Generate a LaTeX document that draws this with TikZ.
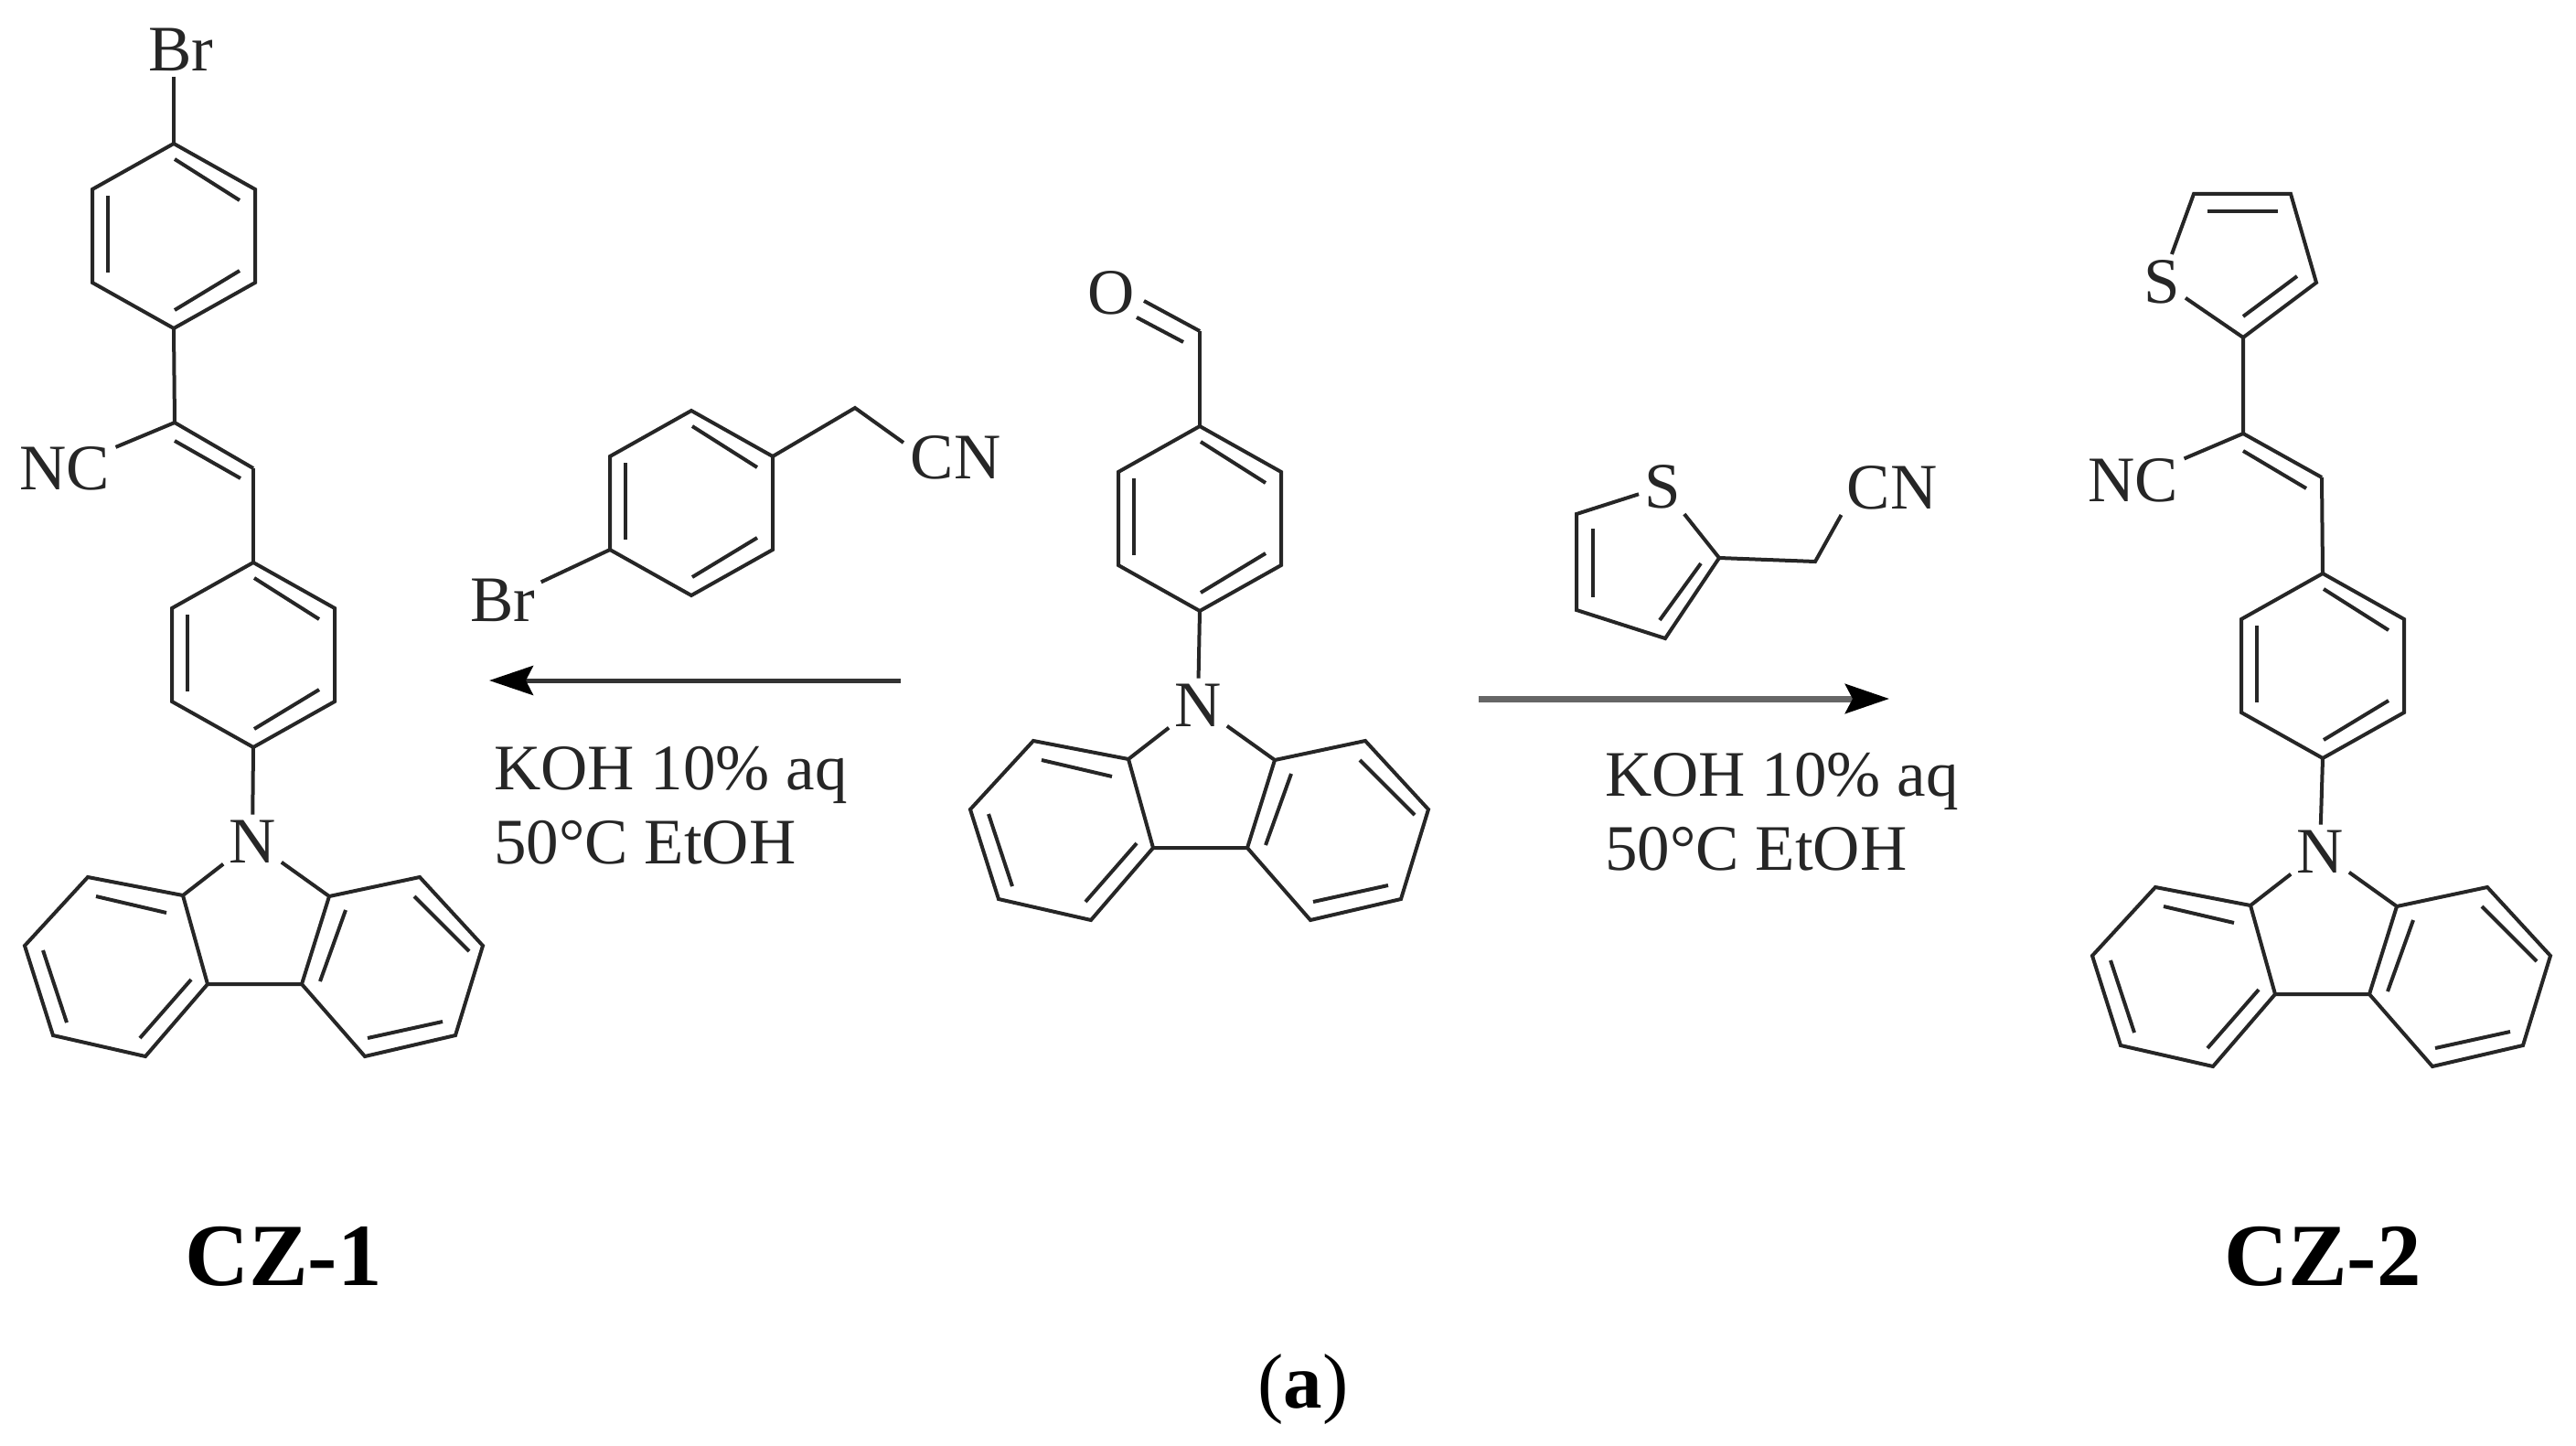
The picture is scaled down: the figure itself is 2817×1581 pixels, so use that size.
\documentclass[tikz,border=0pt]{standalone}
\usepackage{fontspec}
\setmainfont{Liberation Serif}
\usetikzlibrary{arrows.meta}

\tikzset{
  bond/.style={line width=4pt,black!85},
  atom/.style={inner sep=6pt,font=\fontsize{71}{71}\selectfont,text=black!85},
  cond/.style={inner sep=0pt,anchor=base west,font=\fontsize{71}{71}\selectfont,text=black!85},
  cmpd/.style={inner sep=0pt,font=\bfseries\fontsize{97}{97}\selectfont}
}

% six-membered ring, centre at #2
\newcommand{\phring}[2]{%
\begin{scope}[shift={(#2)},name prefix=#1]
\coordinate (t) at (0,-101);
\coordinate (ur) at (89,-51);
\coordinate (lr) at (89,51);
\coordinate (b) at (0,101);
\coordinate (ll) at (-89,51);
\coordinate (ul) at (-89,-51);
\draw[bond] (t) -- (ur) -- (lr) -- (b) -- (ll) -- (ul) -- cycle;
\draw[bond] (1,-84) -- (72,-39);
\draw[bond] (-72,-44) -- (-72,40);
\draw[bond] (1,81) -- (72,38);
\end{scope}}

% carbazole, ring nitrogen at #2
\newcommand{\carbaz}[2]{%
\begin{scope}[shift={(#2)},name prefix=#1]
\node[atom] (n) at (0,0) {N};
\coordinate (a) at (-76,59);
\coordinate (b) at (-180,39);
\coordinate (c) at (-249,114);
\coordinate (d) at (-218,212);
\coordinate (e) at (-117,235);
\coordinate (f) at (-49,156);
\coordinate (g) at (54,156);
\coordinate (h) at (84,60);
\coordinate (i) at (183,39);
\coordinate (j) at (252,114);
\coordinate (k) at (222,212);
\coordinate (l) at (123,235);
\draw[bond] (n) -- (a) -- (b) -- (c) -- (d) -- (e) -- (f) -- (a);
\draw[bond] (f) -- (g) -- (h) -- (n);
\draw[bond] (h) -- (i) -- (j) -- (k) -- (l) -- (g);
\draw[bond] (-171,60) -- (-94,78);
\draw[bond] (-229,119) -- (-203,198);
\draw[bond] (-123,215) -- (-67,151);
\draw[bond] (102,75) -- (74,153);
\draw[bond] (177,60) -- (237,120);
\draw[bond] (126,215) -- (208,197);
\end{scope}}

\begin{document}
\begin{tikzpicture}[x=1pt,y=-1pt,>={Stealth[length=48pt,width=32pt,inset=8pt,black]}]
\useasboundingbox (0,0) rectangle (2817,1581);

% CZ-1
\node[atom] (brA) at (198,54) {Br};
\phring{ra}{190,258}
\draw[bond] (brA.south -| rat) -- (rat);
\coordinate (vinA) at (191,462);
\coordinate (chA) at (277,512);
\node[atom] (ncA) at (71,512) {NC};
\draw[bond] (rab) -- (vinA) -- (chA);
\draw[bond] (vinA) -- (ncA);
\draw[bond] (191,482) -- (263,523);
\phring{rb}{277,716}
\draw[bond] (chA) -- (rbt);
\carbaz{cza}{276,920}
\draw[bond] (rbb) -- (czan);
\node[cmpd] (nameA) at (310,1374) {CZ-1};

% reagent, left
\phring{rc}{756,550}
\node[atom] (brC) at (550,656) {Br};
\draw[bond] (rcll) -- (brC);
\coordinate (chC) at (935,446);
\node[atom] (cnC) at (1045,500) {CN};
\coordinate (cnCend) at (988,484);
\draw[bond] (rcur) -- (chC) -- (cnCend);

\coordinate (arLs) at (985,744);
\coordinate (arLe) at (535,744);
\draw[->,line width=5pt,black!80] (arLs) -- (arLe);
\node[cond] (koL) at (540,863) {KOH 10\% aq};
\node[cond] (etL) at (540,944) {50°C EtOH};

% aldehyde
\node[atom] (oM) at (1215,320) {O};
\coordinate (choM) at (1312,362);
\draw[bond] (1251,329) -- (choM);
\draw[bond] (1243,347) -- (1294,374);
\phring{rm}{1312,567}
\draw[bond] (choM) -- (rmt);
\carbaz{czm}{1310,771}
\draw[bond] (rmb) -- (czmn);

% reagent, right
\node[atom] (sR) at (1818,532) {S};
\coordinate (t1) at (1724,562);
\coordinate (t2) at (1724,667);
\coordinate (t3) at (1821,698);
\coordinate (t4) at (1880,610);
\draw[bond] (sR) -- (t1) -- (t2) -- (t3) -- (t4) -- (sR);
\draw[bond] (1742,578) -- (1742,653);
\draw[bond] (1815,678) -- (1860,616);
\coordinate (chR) at (1985,614);
\node[atom] (cnR) at (2069,533) {CN};
\draw[bond] (t4) -- (chR) -- (cnR.south west);

\coordinate (arRs) at (1617,764);
\coordinate (arRe) at (2066,764);
\draw[->,line width=7pt,black!60] (arRs) -- (arRe);
\node[cond] (koR) at (1755,870) {KOH 10\% aq};
\node[cond] (etR) at (1755,951) {50°C EtOH};

% CZ-2
\node[atom] (sB) at (2364,308) {S};
\coordinate (u1) at (2399,212);
\coordinate (u2) at (2505,212);
\coordinate (u3) at (2533,309);
\coordinate (u4) at (2453,369);
\draw[bond] (sB) -- (u1) -- (u2) -- (u3) -- (u4) -- (sB);
\draw[bond] (2414,231) -- (2491,231);
\draw[bond] (2512,302) -- (2453,346);
\coordinate (vinB) at (2453,474);
\coordinate (chB) at (2539,522);
\node[atom] (ncB) at (2333,525) {NC};
\draw[bond] (u4) -- (vinB) -- (chB);
\draw[bond] (vinB) -- (ncB);
\draw[bond] (2453,493) -- (2522,534);
\phring{rd}{2540,728}
\draw[bond] (chB) -- (rdt);
\carbaz{czb}{2537,931}
\draw[bond] (rdb) -- (czbn);
\node[cmpd] (nameB) at (2540,1374) {CZ-2};

% panel tag
\node[inner sep=0pt,font=\fontsize{85}{85}\selectfont] (tag) at (1425,1519) {(\textbf{a})};

\end{tikzpicture}
\end{document}
